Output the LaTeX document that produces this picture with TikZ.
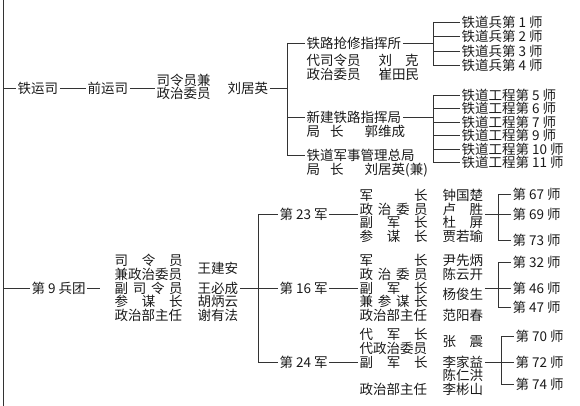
\documentclass[tikz,border=0pt]{standalone}
\usepackage{fontspec}
\setmainfont{Noto Sans CJK SC}
\usetikzlibrary{positioning,calc}
\definecolor{ink}{HTML}{1A1A1A}
\definecolor{wire}{HTML}{333333}
\newcommand{\tw}[1]{\makebox[68pt][l]{#1}}
\newcommand{\low}[2][6.75pt]{\raisebox{-#1}[0pt][0pt]{#2}}

\begin{document}
\begin{tikzpicture}[x=1pt, y=-1pt,
    lbl/.style={anchor=west, inner xsep=1.5pt, inner ysep=0pt, text=ink,
                font=\fontsize{13.5}{13.6}\selectfont},
    blk/.style={lbl, align=left},
    link/.style={draw=wire, line width=0.6pt},
  ]
  \useasboundingbox (0,0) rectangle (580,406);

  % main spine
  \coordinate (top) at (3,0);
  \coordinate (bot) at (3,406);
  \draw[link] (top) -- (bot);

  % railway branch
  \node[lbl] (tieyun) at (16,88) {铁运司};
  \node[lbl] (qianyun) at (86,88) {前运司};
  \node[blk] (siling) at (155,87) {司令员兼\\政治委员};
  \node[lbl] (liu) at (226,88) {刘居英};
  \draw[link] (tieyun.west -| top) -- (tieyun.west);
  \draw[link] (tieyun.east) -- (qianyun.west);
  \draw[link] (qianyun.east) -- (qianyun.east -| siling.west);

  \node[lbl] (b1) at (305,43) {铁路抢修指挥所};
  \node[blk] (b1s) at (305,67.5) {代司令员\hspace{18pt}刘\hspace{13pt}克\\政治委员\hspace{18pt}崔田民};
  \node[lbl] (b2) at (305,117) {新建铁路指挥局};
  \node[lbl] (b2s) at (305,131) {\makebox[58pt][l]{局\hspace{10pt}长}郭维成};
  \node[lbl] (b3) at (305,155) {铁道军事管理总局};
  \node[lbl] (b3s) at (305,170) {\makebox[58pt][l]{局\hspace{10pt}长}刘居英(兼)};

  \coordinate (busA) at (287,0);
  \draw[link] (b1.west -| busA) -- (b3.west -| busA);
  \foreach \c in {b1,b2,b3}
    \draw[link] (\c.west -| busA) -- (\c.west);
  \draw[link] (liu.east) -- (liu.east -| busA);

  % railway corps divisions
  \coordinate (busT) at (433,0);
  \foreach \n [count=\i] in {1,...,4}
    \node[lbl] (r\i) at (460,7.5+14.5*\i) {铁道兵第 \n\ 师};
  \draw[link] (r1.west -| busT) -- (r4.west -| busT);
  \foreach \i in {1,...,4}
    \draw[link] (r\i.west -| busT) -- (r\i.west);
  \draw[link] (b1.east) -- (b1.east -| busT);

  % engineering divisions
  \coordinate (busE) at (433,0);
  \foreach \n [count=\i] in {5,6,7,9,10,11}
    \node[lbl] (e\i) at (460,81.5+13.5*\i) {铁道工程第 \n\ 师};
  \draw[link] (e1.west -| busE) -- (e6.west -| busE);
  \foreach \i in {1,...,6}
    \draw[link] (e\i.west -| busE) -- (e\i.west);
  \draw[link] (b2.east) -- (b2.east -| busE);

  % 9th army group
  \node[lbl] (bt) at (30,288) {第 9 兵团};
  \node[blk] (g9) at (113,288) {\tw{司\hfill 令\hfill 员}\hspace{15pt}\low[8pt]{王建安}\\
    \tw{兼政治委员}\\
    \tw{副\hfill 司\hfill 令\hfill 员}\hspace{15pt}王必成\\
    \tw{参\hfill 谋\hfill 长}\hspace{15pt}胡炳云\\
    \tw{政治部主任}\hspace{15pt}谢有法};
  \draw[link] (bt.west -| top) -- (bt.west);
  \draw[link, shorten >=13pt] (bt.east) -- (g9.west);

  \coordinate (bus9) at (258,0);
  \node[lbl] (a23) at (278,214) {第 23 军};
  \node[lbl] (a16) at (278,288) {第 16 军};
  \node[lbl] (a24) at (278,362) {第 24 军};
  \draw[link] (a23.west -| bus9) -- (a24.west -| bus9);
  \draw[link] (a23.west -| bus9) -- (a23.west);
  \draw[link] (a24.west -| bus9) -- (a24.west);
  \draw[link] (g9.east) -- (a16.west);

  % armies
  \node[blk] (g23) at (358,216) {\tw{军\hfill 长}\hspace{15pt}钟国楚\\
    \tw{政\hfill 治\hfill 委\hfill 员}\hspace{15pt}卢\hspace{1em}胜\\
    \tw{副\hfill 军\hfill 长}\hspace{15pt}杜\hspace{1em}屏\\
    \tw{参\hfill 谋\hfill 长}\hspace{15pt}贾若瑜};
  \node[blk] (g16) at (358,288) {\tw{军\hfill 长}\hspace{15pt}尹先炳\\
    \tw{政\hfill 治\hfill 委\hfill 员}\hspace{15pt}陈云开\\
    \tw{副\hfill 军\hfill 长}\hspace{15pt}\low{杨俊生}\\
    \tw{兼\hfill 参\hfill 谋\hfill 长}\\
    \tw{政治部主任}\hspace{15pt}范阳春};
  \node[blk] (g24) at (358,362) {\tw{代\hfill 军\hfill 长}\hspace{15pt}\low{张\hspace{1em}震}\\
    \tw{代政治委员}\\
    \tw{副\hfill 军\hfill 长}\hspace{15pt}李家益\\
    \tw{}\hspace{15pt}陈仁洪\\
    \tw{政治部主任}\hspace{15pt}李彬山};
  \draw[link] (a23.east) -- (a23.east -| g23.west);
  \draw[link] (a16.east) -- (g16.west);
  \draw[link] (a24.east) -- (g24.west);

  % divisions
  \coordinate (bus23) at (498,0);
  \node[lbl] (d67) at (511,194) {第 67 师};
  \node[lbl] (d69) at (511,214) {第 69 师};
  \node[lbl] (d73) at (511,240) {第 73 师};
  \draw[link] (d67.west -| bus23) -- (d73.west -| bus23);
  \foreach \c in {d67,d69,d73}
    \draw[link] (\c.west -| bus23) -- (\c.west);
  \draw[link] (g23.east |- d69.west) -- (d69.west -| bus23);

  \coordinate (bus16) at (498,0);
  \node[lbl] (d32) at (511,262) {第 32 师};
  \node[lbl] (d46) at (511,288) {第 46 师};
  \node[lbl] (d47) at (511,307) {第 47 师};
  \draw[link] (d32.west -| bus16) -- (d47.west -| bus16);
  \foreach \c in {d32,d46,d47}
    \draw[link] (\c.west -| bus16) -- (\c.west);
  \draw[link] (g16.east) -- (g16.east -| bus16);

  \coordinate (bus24) at (501,0);
  \node[lbl] (d70) at (514,336) {第 70 师};
  \node[lbl] (d72) at (514,362) {第 72 师};
  \node[lbl] (d74) at (514,384) {第 74 师};
  \draw[link] (d70.west -| bus24) -- (d74.west -| bus24);
  \foreach \c in {d70,d72,d74}
    \draw[link] (\c.west -| bus24) -- (\c.west);
  \draw[link] (g24.east) -- (g24.east -| bus24);
\end{tikzpicture}
\end{document}
